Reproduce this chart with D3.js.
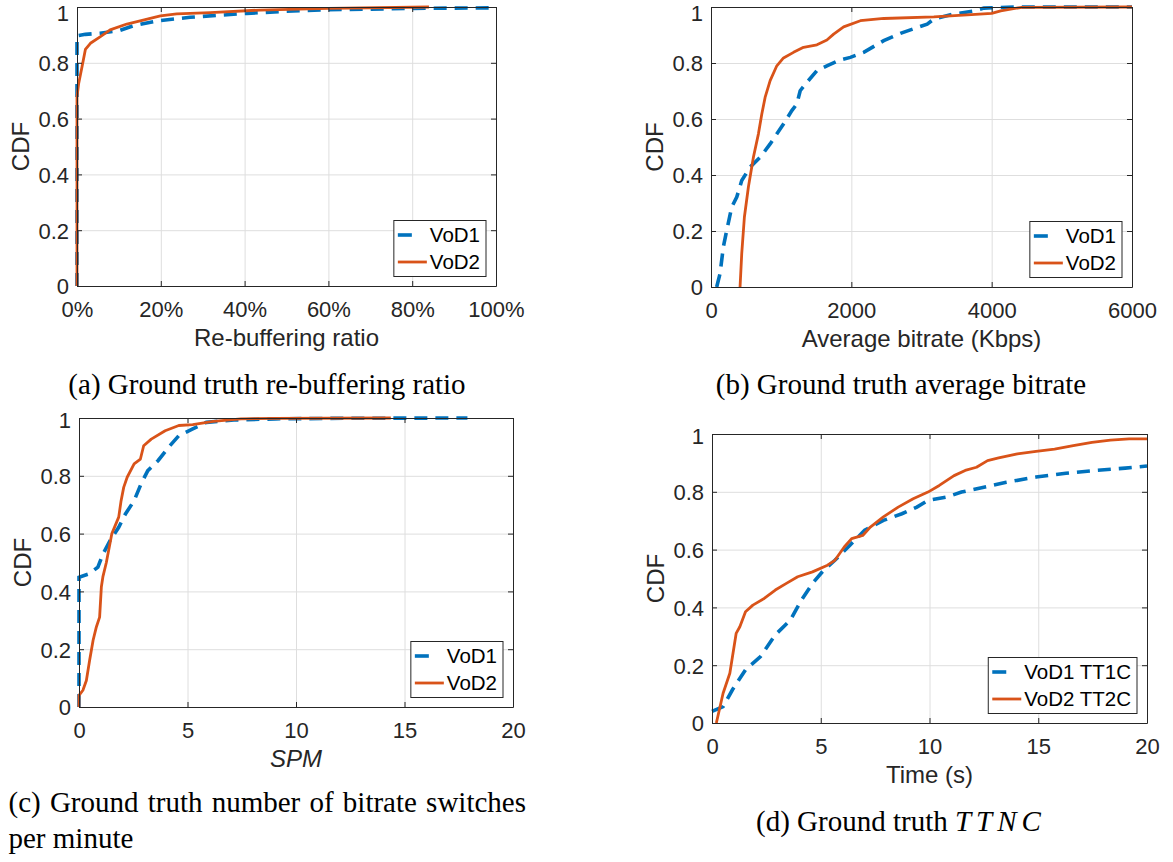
<!DOCTYPE html>
<html><head><meta charset="utf-8">
<script src="https://cdn.jsdelivr.net/npm/d3@7"></script>
<style>body{margin:0;background:#fff}svg{display:block}</style>
</head><body>
<svg id="c" width="1173" height="862"></svg>
<script>
// ---------- data ----------
const cdfTicks = [0, 0.2, 0.4, 0.6, 0.8, 1];
const aTicks = [0, 0.2, 0.4, 0.6, 0.8, 1];
const bTicks = [0, 2000, 4000, 6000];
const cTicks = [0, 5, 10, 15, 20];
const dTicks = [0, 5, 10, 15, 20];

const aVoD1 = [[0,0],[0,0.897],[0.02,0.902],[0.055,0.906],[0.10,0.915],[0.135,0.933],[0.195,0.951],[0.27,0.963],[0.335,0.970],[0.405,0.977],[0.5,0.985],[0.6,0.99],[0.8,0.995],[1.0,0.997]];
const aVoD2 = [[0,0],[0,0.678],[0.004,0.726],[0.012,0.786],[0.02,0.848],[0.032,0.87],[0.056,0.894],[0.079,0.918],[0.119,0.939],[0.158,0.953],[0.199,0.968],[0.238,0.975],[0.318,0.98],[0.437,0.989],[0.6,0.995],[0.84,1.0]];

const bVoD1 = [[81,0],[129,0.048],[176,0.143],[224,0.202],[295,0.285],[367,0.321],[438,0.38],[557,0.428],[700,0.463],[843,0.511],[1033,0.582],[1152,0.63],[1224,0.654],[1271,0.701],[1367,0.731],[1510,0.773],[1652,0.79],[1843,0.811],[1986,0.82],[2176,0.838],[2462,0.88],[2700,0.906],[3081,0.939],[3176,0.957],[3462,0.975],[3748,0.986],[3890,0.996],[4324,1.0],[6000,1.0]];
const bVoD2 = [[414,0],[438,0.119],[476,0.25],[533,0.357],[605,0.464],[676,0.547],[724,0.618],[771,0.677],[843,0.737],[938,0.79],[1033,0.818],[1176,0.838],[1319,0.856],[1510,0.865],[1652,0.882],[1748,0.903],[1890,0.929],[2129,0.951],[2462,0.959],[3176,0.965],[3652,0.972],[4000,0.977],[4129,0.986],[4430,0.999],[6000,1.0]];

const cVoD1 = [[0,0],[0,0.449],[0.48,0.461],[0.87,0.484],[1.11,0.53],[1.43,0.576],[1.83,0.622],[2.14,0.668],[2.54,0.714],[2.86,0.772],[3.17,0.818],[3.65,0.853],[4.13,0.899],[4.6,0.939],[5.24,0.962],[5.87,0.985],[7.14,0.993],[9.05,0.997],[12.2,0.999],[17.9,1.0]];
const cVoD2 = [[0,0],[0,0.04],[0.18,0.058],[0.34,0.092],[0.49,0.162],[0.65,0.231],[0.8,0.277],[0.95,0.311],[1.03,0.415],[1.1,0.45],[1.26,0.5],[1.51,0.599],[1.83,0.657],[1.94,0.714],[2.06,0.76],[2.22,0.795],[2.54,0.841],[2.83,0.858],[2.98,0.904],[3.33,0.927],[3.97,0.956],[4.6,0.974],[5.24,0.977],[6.19,0.988],[7.46,0.997],[9.05,0.999],[14.37,1.0]];

const dVoD1 = [[0,0.04],[0.51,0.057],[0.94,0.115],[1.54,0.184],[2.23,0.23],[2.91,0.305],[3.6,0.356],[4.11,0.425],[4.62,0.483],[5.14,0.529],[5.65,0.563],[6.34,0.615],[7.02,0.667],[7.88,0.701],[8.73,0.724],[9.42,0.747],[9.93,0.77],[10.79,0.782],[11.47,0.799],[12.5,0.816],[13.53,0.833],[14.9,0.851],[16.27,0.864],[17.64,0.874],[19.0,0.882],[20,0.889]];
const dVoD2 = [[0.2,0],[0.51,0.103],[0.82,0.172],[1.11,0.31],[1.28,0.333],[1.54,0.385],[1.88,0.408],[2.4,0.431],[2.91,0.46],[3.42,0.483],[3.94,0.506],[4.62,0.523],[5.31,0.546],[5.65,0.563],[6.08,0.609],[6.42,0.638],[6.93,0.649],[7.28,0.678],[7.88,0.713],[8.56,0.747],[9.25,0.776],[9.93,0.799],[10.45,0.822],[11.13,0.856],[11.64,0.874],[12.16,0.885],[12.67,0.908],[13.18,0.917],[14.04,0.931],[14.9,0.94],[15.75,0.948],[16.61,0.96],[17.47,0.971],[18.32,0.979],[19.18,0.983],[20,0.983]];

const legendAB = ["VoD1", "VoD2"];
const legendD = ["VoD1 TT1C", "VoD2 TT2C"];

// ---------- styling ----------
const svg = d3.select("#c");
const SANS = "'Liberation Sans', Arial, Helvetica, sans-serif";
const SERIF = "'Liberation Serif', 'Times New Roman', Times, serif";
const BLUE = "#0072BD", ORANGE = "#D95319", AX = "#262626", GRID = "#dedede";

function panel(cfg) {
  const {left, right, top, bottom} = cfg;
  const x = d3.scaleLinear().domain(cfg.xDomain).range([left, right]);
  const y = d3.scaleLinear().domain([0, 1]).range([bottom, top]);
  const g = svg.append("g");
  const h = bottom - top, w = right - left;

  // grid
  g.append("g").attr("transform", `translate(0,${bottom})`)
    .call(d3.axisBottom(x).tickValues(cfg.xTicks.slice(1, -1)).tickSize(-h).tickFormat(""))
    .call(s => { s.select(".domain").remove(); s.selectAll("line").attr("stroke", GRID); });
  g.append("g").attr("transform", `translate(${left},0)`)
    .call(d3.axisLeft(y).tickValues(cdfTicks.slice(1, -1)).tickSize(-w).tickFormat(""))
    .call(s => { s.select(".domain").remove(); s.selectAll("line").attr("stroke", GRID); });

  // series
  const line = d3.line().x(d => x(d[0])).y(d => y(d[1]));
  g.append("path").datum(cfg.s1).attr("d", line).attr("fill", "none")
    .attr("stroke", BLUE).attr("stroke-width", 3.6).attr("stroke-dasharray", "13,8");
  g.append("path").datum(cfg.s2).attr("d", line).attr("fill", "none")
    .attr("stroke", ORANGE).attr("stroke-width", 2.8).attr("stroke-linejoin", "round");

  // axes
  const styleAx = s => {
    s.select(".domain").attr("stroke", AX);
    s.selectAll(".tick line").attr("stroke", AX);
    s.selectAll("text").attr("font-family", SANS).attr("font-size", 22).attr("fill", AX);
  };
  const bx = g.append("g").attr("transform", `translate(0,${bottom})`)
    .call(d3.axisBottom(x).tickValues(cfg.xTicks).tickSizeInner(-5).tickSizeOuter(0).tickFormat(cfg.xFormat || (d => d)))
    .call(styleAx);
  bx.selectAll("text").attr("y", 31).attr("dy", null);
  g.append("g").attr("transform", `translate(0,${top})`)
    .call(d3.axisTop(x).tickValues(cfg.xTicks).tickSizeInner(-5).tickSizeOuter(0).tickFormat(""))
    .call(styleAx);
  const topDy = top < 15 ? "0.6em" : "0.45em";
  g.append("g").attr("transform", `translate(${left},0)`)
    .call(d3.axisLeft(y).tickValues(cdfTicks).tickSizeInner(-5).tickSizeOuter(0).tickPadding(8).tickFormat(d => d3.format("~g")(d)))
    .call(styleAx).selectAll("text").attr("dy", d => d === 1 ? topDy : "0.36em");
  g.append("g").attr("transform", `translate(${right},0)`)
    .call(d3.axisRight(y).tickValues(cdfTicks).tickSizeInner(-5).tickSizeOuter(0).tickFormat(""))
    .call(styleAx);

  // axis labels
  g.append("text").attr("x", (left + right) / 2).attr("y", bottom + 60)
    .attr("text-anchor", "middle").attr("font-family", SANS).attr("font-size", 24)
    .attr("font-style", cfg.xItalic ? "italic" : null).attr("fill", AX).text(cfg.xLabel);
  g.append("text").attr("transform", `translate(${left - 48},${(top + bottom) / 2}) rotate(-90)`)
    .attr("text-anchor", "middle").attr("font-family", SANS).attr("font-size", 24)
    .attr("fill", AX).text("CDF");

  // legend
  const lg = g.append("g");
  const boxRight = right - 10, boxBottom = bottom - 9.5, boxH = 56;
  const texts = cfg.legend.map((t, i) => lg.append("text").attr("font-family", SANS)
    .attr("font-size", 20.5).attr("fill", "#000").attr("dy", "0.35em").text(t));
  const tw = d3.max(texts, t => t.node().getComputedTextLength());
  const boxW = 36 + tw + 6, boxLeft = boxRight - boxW, boxTop = boxBottom - boxH;
  lg.insert("rect", "text").attr("x", boxLeft).attr("y", boxTop).attr("width", boxW).attr("height", boxH)
    .attr("fill", "#fff").attr("stroke", AX).attr("stroke-width", 1);
  const rows = [boxTop + 14.5, boxTop + 41.5];
  texts.forEach((t, i) => t.attr("x", boxLeft + 36).attr("y", rows[i]));
  lg.append("line").attr("x1", boxLeft + 4).attr("x2", boxLeft + 33).attr("y1", rows[0]).attr("y2", rows[0])
    .attr("stroke", BLUE).attr("stroke-width", 3.6).attr("stroke-dasharray", "14,40");
  lg.append("line").attr("x1", boxLeft + 4).attr("x2", boxLeft + 33).attr("y1", rows[1]).attr("y2", rows[1])
    .attr("stroke", ORANGE).attr("stroke-width", 2.8);
}

panel({left: 77, right: 496, top: 7, bottom: 286, xDomain: [0, 1], xTicks: aTicks,
  xFormat: d => Math.round(d * 100) + "%", xLabel: "Re-buffering ratio", s1: aVoD1, s2: aVoD2, legend: legendAB});
panel({left: 711, right: 1132, top: 7, bottom: 287, xDomain: [0, 6000], xTicks: bTicks,
  xLabel: "Average bitrate (Kbps)", s1: bVoD1, s2: bVoD2, legend: legendAB});
panel({left: 79, right: 513, top: 418, bottom: 707, xDomain: [0, 20], xTicks: cTicks,
  xLabel: "SPM", xItalic: true, s1: cVoD1, s2: cVoD2, legend: legendAB});
panel({left: 712, right: 1147, top: 434, bottom: 723, xDomain: [0, 20], xTicks: dTicks,
  xLabel: "Time (s)", s1: dVoD1, s2: dVoD2, legend: legendD});

// captions
function caption(x, y, anchor) {
  return svg.append("text").attr("x", x).attr("y", y).attr("text-anchor", anchor)
    .attr("font-family", SERIF).attr("font-size", 29).attr("fill", "#000");
}
caption(267, 394, "middle").text("(a) Ground truth re-buffering ratio");
caption(901, 394, "middle").text("(b) Ground truth average bitrate");
const c1 = caption(8.5, 812, "start").text("(c) Ground truth number of bitrate switches");
const nat = c1.node().getComputedTextLength();
const spaces = 6;
c1.attr("word-spacing", (526 - 8.5 - nat) / spaces);
caption(8.5, 848, "start").text("per minute");
const dc = caption(901, 831, "middle");
dc.append("tspan").text("(d) Ground truth ");
dc.append("tspan").attr("font-style", "italic").attr("letter-spacing", 5).text("TTNC");
</script>
</body></html>
